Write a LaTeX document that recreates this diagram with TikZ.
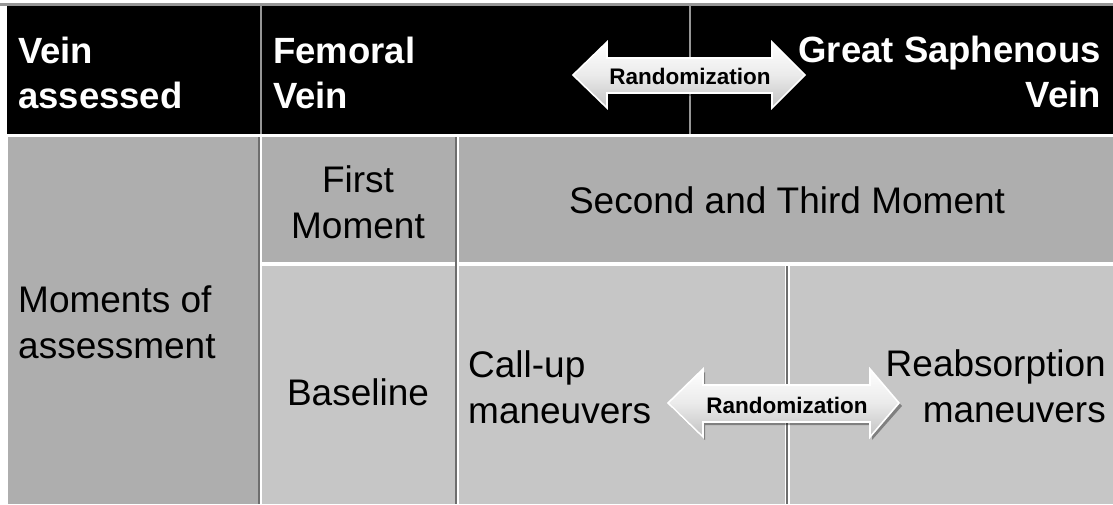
\documentclass[tikz,border=0pt]{standalone}
\usepackage{fontspec}
\setmainfont{Liberation Sans}
\definecolor{cellA}{RGB}{174,174,174}
\definecolor{cellB}{RGB}{198,198,198}
\definecolor{sepdark}{RGB}{110,110,110}
\definecolor{hdrline}{RGB}{150,150,150}
\tikzset{
  hdrtext/.style={text=white, inner sep=0pt, font=\fontsize{36.5}{45}\selectfont\bfseries},
  bodytext/.style={text=black, inner sep=0pt, font=\fontsize{37}{46}\selectfont},
  randtext/.style={text=black, inner sep=0pt, font=\fontsize{22.5}{24}\selectfont\bfseries},
  arrowbody/.style={top color=white, bottom color=black!24, middle color=black!8, draw=white, line width=1.6pt, line join=miter},
  arrowshadow/.style={fill=black, opacity=0.35},
  sepd/.style={draw=sepdark, line width=2pt},
  seph/.style={draw=hdrline, line width=1.5pt}
}
\begin{document}
\begin{tikzpicture}[x=1pt,y=-1pt]
\useasboundingbox (0,0) rectangle (1113,504);
\fill[white] (0,0) rectangle (1113,504);
% top border
\fill[hdrline] (0,3) rectangle (1113,6);
% header row
\fill[black] (7,6) rectangle (1113,134);
\draw[seph] (261,6) -- (261,134);
\draw[seph] (690,6) -- (690,134);
% body cells
\fill[cellA] (8,137) rectangle (258,504);
\fill[cellA] (262,137) rectangle (455,262);
\fill[cellA] (459,137) rectangle (1113,262);
\fill[cellB] (262,266) rectangle (455,504);
\fill[cellB] (459,266) rectangle (785,504);
\fill[cellB] (790,266) rectangle (1113,504);
% separators
\draw[sepd] (259,137) -- (259,504);
\draw[sepd] (456,137) -- (456,504);
\draw[sepd] (787,266) -- (787,504);
% header texts (anchor = baseline of last line)
\node[hdrtext, anchor=base west, align=left] (va) at (18,108) {Vein\\assessed};
\node[hdrtext, anchor=base west, align=left] (fv) at (273,108) {Femoral\\Vein};
\node[hdrtext, anchor=base east, align=right] (gsv) at (1101,107) {Great Saphenous\\Vein};
% body texts
\node[bodytext, anchor=base west, align=left] (moa) at (18,358) {Moments of\\assessment};
\node[bodytext, anchor=base, align=center] (fm) at (358,238) {First\\Moment};
\node[bodytext, anchor=base] (stm) at (787,213) {Second and Third Moment};
\node[bodytext, anchor=base] (bl) at (358,405) {Baseline};
\node[bodytext, anchor=base west, align=left] (cu) at (468,423) {Call-up\\maneuvers};
\node[bodytext, anchor=base east, align=right] (ra) at (1106,422) {Reabsorption\\maneuvers};
% top randomization arrow
\fill[arrowshadow] (575,78) -- (609,45) -- (609,61) -- (774,61) -- (774,45) -- (808,78) -- (774,111) -- (774,96) -- (609,96) -- (609,111) -- cycle;
\path[arrowbody] (573,75) -- (607,42) -- (607,58) -- (772,58) -- (772,42) -- (805,75) -- (772,108) -- (772,93) -- (607,93) -- (607,108) -- cycle;
\node[randtext] (r1) at (690,76) {Randomization};
% bottom randomization arrow
\fill[arrowshadow] (670,406) -- (705,372) -- (705,388) -- (872,388) -- (872,372) -- (902,406) -- (872,440) -- (872,425) -- (705,425) -- (705,440) -- cycle;
\path[arrowbody] (668,403) -- (703,369) -- (703,385) -- (870,385) -- (870,369) -- (899,403) -- (870,437) -- (870,422) -- (703,422) -- (703,437) -- cycle;
\node[randtext] (r2) at (787,405) {Randomization};
\end{tikzpicture}
\end{document}
